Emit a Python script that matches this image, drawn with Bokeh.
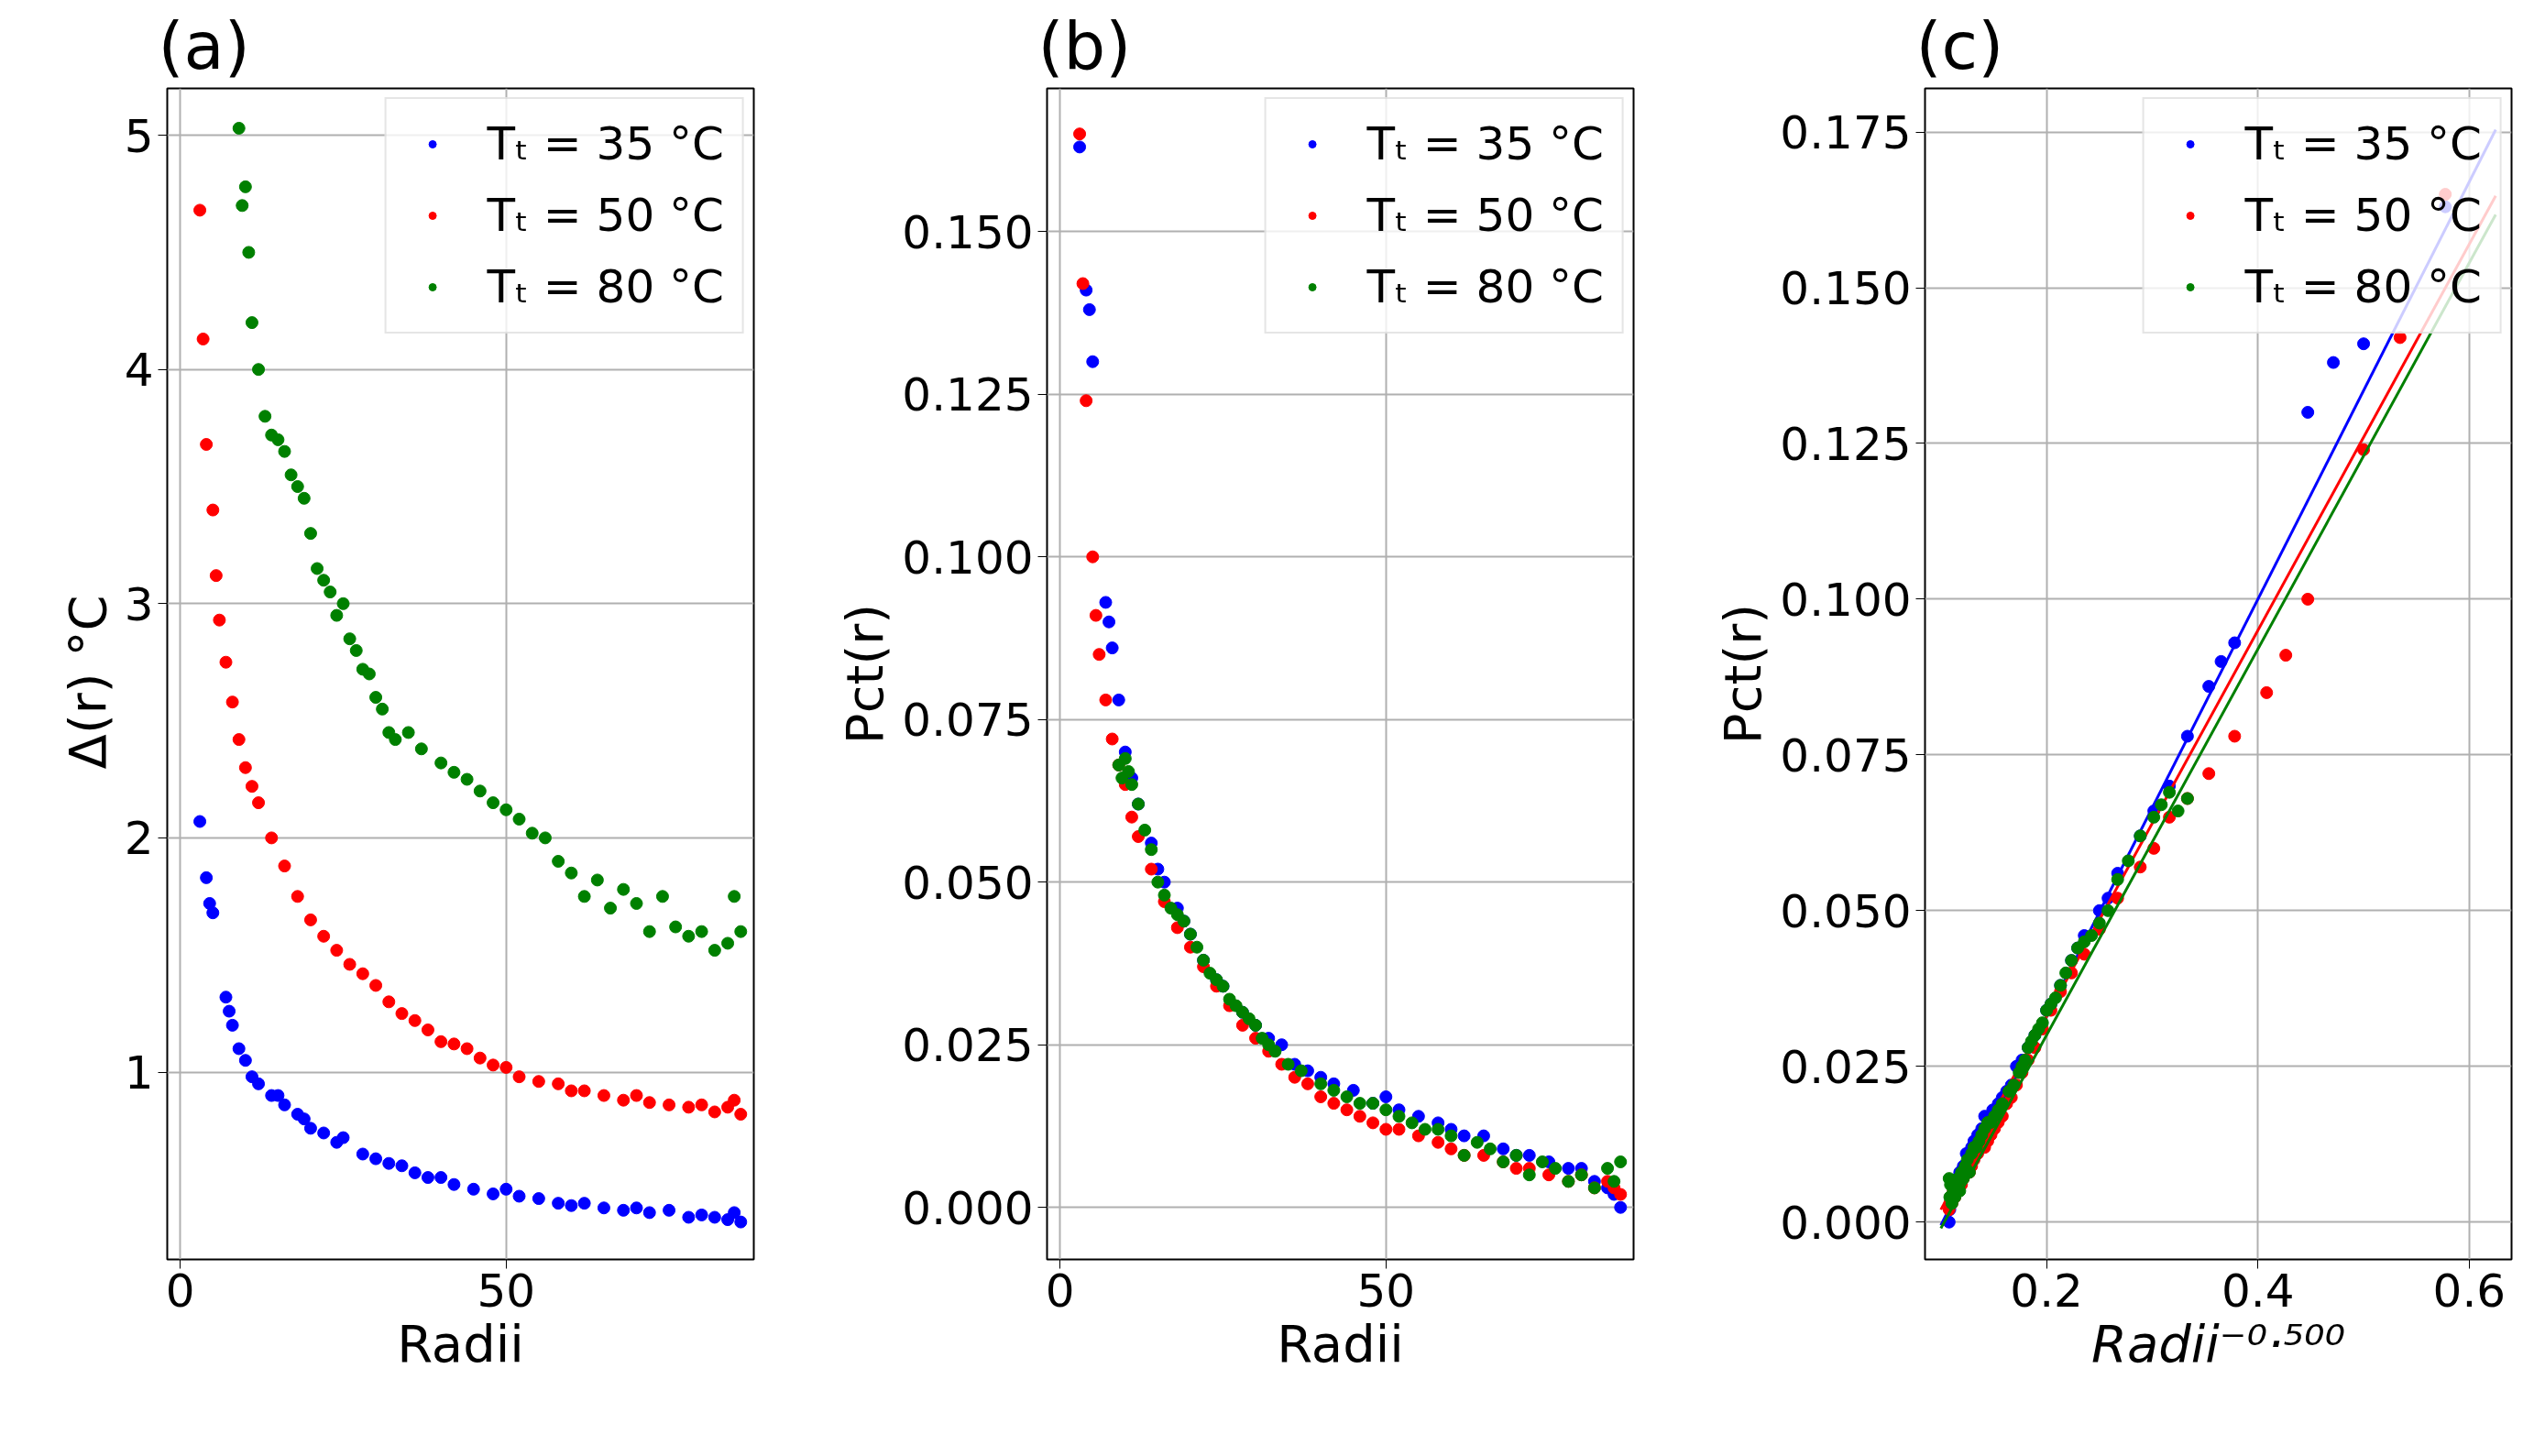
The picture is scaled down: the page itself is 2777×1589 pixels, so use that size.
from bokeh.plotting import figure
from bokeh.layouts import row
from bokeh.models import FixedTicker, NumeralTickFormatter, Range1d, Legend, LegendItem
from bokeh.embed import file_html
from bokeh.resources import INLINE

labels = ["Tₜ = 35 °C", "Tₜ = 50 °C", "Tₜ = 80 °C"]
colors = ["blue", "red", "green"]

r_blue = [3, 4, 4.5, 5, 7, 7.5, 8, 9, 10, 11, 12, 14, 15, 16, 18, 19, 20, 22, 24, 25, 28, 30, 32, 34, 36, 38, 40, 42, 45, 48, 50, 52, 55, 58, 60, 62, 65, 68, 70, 72, 75, 78, 80, 82, 84, 85, 86]
d_blue = [2.07, 1.83, 1.72, 1.68, 1.32, 1.26, 1.2, 1.1, 1.05, 0.98, 0.95, 0.9, 0.9, 0.86, 0.82, 0.8, 0.76, 0.74, 0.7, 0.72, 0.65, 0.63, 0.61, 0.6, 0.57, 0.55, 0.55, 0.52, 0.5, 0.48, 0.5, 0.47, 0.46, 0.44, 0.43, 0.44, 0.42, 0.41, 0.42, 0.4, 0.41, 0.38, 0.39, 0.38, 0.37, 0.4, 0.36]
p_blue = [0.163, 0.141, 0.138, 0.13, 0.093, 0.09, 0.086, 0.078, 0.07, 0.066, 0.062, 0.056, 0.052, 0.05, 0.046, 0.044, 0.042, 0.038, 0.035, 0.034, 0.03, 0.028, 0.026, 0.025, 0.022, 0.021, 0.02, 0.019, 0.018, 0.016, 0.017, 0.015, 0.014, 0.013, 0.012, 0.011, 0.011, 0.009, 0.008, 0.008, 0.007, 0.006, 0.006, 0.004, 0.003, 0.002, 0.0]

r_red = [3, 3.5, 4, 5, 5.5, 6, 7, 8, 9, 10, 11, 12, 14, 16, 18, 20, 22, 24, 26, 28, 30, 32, 34, 36, 38, 40, 42, 44, 46, 48, 50, 52, 55, 58, 60, 62, 65, 68, 70, 72, 75, 78, 80, 82, 84, 85, 86]
d_red = [4.68, 4.13, 3.68, 3.4, 3.12, 2.93, 2.75, 2.58, 2.42, 2.3, 2.22, 2.15, 2.0, 1.88, 1.75, 1.65, 1.58, 1.52, 1.46, 1.42, 1.37, 1.3, 1.25, 1.22, 1.18, 1.13, 1.12, 1.1, 1.06, 1.03, 1.02, 0.98, 0.96, 0.95, 0.92, 0.92, 0.9, 0.88, 0.9, 0.87, 0.86, 0.85, 0.86, 0.83, 0.85, 0.88, 0.82]
p_red = [0.165, 0.142, 0.124, 0.1, 0.091, 0.085, 0.078, 0.072, 0.068, 0.065, 0.06, 0.057, 0.052, 0.047, 0.043, 0.04, 0.037, 0.034, 0.031, 0.028, 0.026, 0.024, 0.022, 0.02, 0.019, 0.017, 0.016, 0.015, 0.014, 0.013, 0.012, 0.012, 0.011, 0.01, 0.009, 0.008, 0.008, 0.007, 0.006, 0.006, 0.005, 0.004, 0.005, 0.003, 0.004, 0.003, 0.002]

r_green = [9, 9.5, 10, 10.5, 11, 12, 13, 14, 15, 16, 17, 18, 19, 20, 21, 22, 23, 24, 25, 26, 27, 28, 29, 30, 31, 32, 33, 35, 37, 40, 42, 44, 46, 48, 50, 52, 54, 56, 58, 60, 62, 64, 66, 68, 70, 72, 74, 76, 78, 80, 82, 84, 85, 86]
d_green = [5.03, 4.7, 4.78, 4.5, 4.2, 4.0, 3.8, 3.72, 3.7, 3.65, 3.55, 3.5, 3.45, 3.3, 3.15, 3.1, 3.05, 2.95, 3.0, 2.85, 2.8, 2.72, 2.7, 2.6, 2.55, 2.45, 2.42, 2.45, 2.38, 2.32, 2.28, 2.25, 2.2, 2.15, 2.12, 2.08, 2.02, 2.0, 1.9, 1.85, 1.75, 1.82, 1.7, 1.78, 1.72, 1.6, 1.75, 1.62, 1.58, 1.6, 1.52, 1.55, 1.75, 1.6]
p_green = [0.068, 0.066, 0.069, 0.067, 0.065, 0.062, 0.058, 0.055, 0.05, 0.048, 0.046, 0.045, 0.044, 0.042, 0.04, 0.038, 0.036, 0.035, 0.034, 0.032, 0.031, 0.03, 0.029, 0.028, 0.026, 0.025, 0.024, 0.022, 0.021, 0.019, 0.018, 0.017, 0.016, 0.016, 0.015, 0.014, 0.013, 0.012, 0.012, 0.011, 0.008, 0.01, 0.009, 0.007, 0.008, 0.005, 0.007, 0.006, 0.004, 0.005, 0.003, 0.006, 0.004, 0.007]

radii = [r_blue, r_red, r_green]
delta = [d_blue, d_red, d_green]
pct = [p_blue, p_red, p_green]

# linear fits Pct = a * Radii^-0.5 + b
fit_slope = [0.335, 0.31, 0.31]
fit_icpt = [-0.034, -0.029, -0.032]
fit_x = [0.1, 0.625]

FONT = "DejaVu Sans"
TICK = "50px"

def make(title, xr, yr, left, right, xticks, yticks, xlabel, ylabel, yfmt=None, xfmt=None):
    p = figure(output_backend="svg", toolbar_location=None, frame_width=640, frame_height=1278,
               x_range=Range1d(*xr), y_range=Range1d(*yr), min_border_left=left,
               min_border_right=right, min_border_top=60, min_border_bottom=20)
    p.title.text = title
    p.title.text_font = FONT
    p.title.text_font_size = "72px"
    p.title.text_font_style = "normal"
    p.title.text_color = "black"
    p.title.offset = -10
    for ax in (p.xaxis, p.yaxis):
        ax.major_label_text_font = FONT
        ax.major_label_text_font_size = TICK
        ax.major_label_text_color = "black"
        ax.axis_label_text_font = FONT
        ax.axis_label_text_font_size = "56px"
        ax.axis_label_text_font_style = "normal"
        ax.axis_label_text_color = "black"
        ax.minor_tick_line_color = None
        ax.major_tick_line_color = "black"
        ax.major_tick_out = 10
        ax.major_tick_in = 0
        ax.axis_line_color = None
    p.xaxis.ticker = FixedTicker(ticks=xticks)
    p.yaxis.ticker = FixedTicker(ticks=yticks)
    if yfmt:
        p.yaxis.formatter = NumeralTickFormatter(format=yfmt)
    if xfmt:
        p.xaxis.formatter = NumeralTickFormatter(format=xfmt)
    p.xaxis.axis_label = xlabel
    p.yaxis.axis_label = ylabel
    p.outline_line_color = "black"
    p.outline_line_width = 2
    p.grid.grid_line_color = "#b0b0b0"
    p.grid.grid_line_width = 2
    return p

def legend(p, renderers):
    lg = Legend(items=[LegendItem(label=l, renderers=[r]) for l, r in zip(labels, renderers)],
                location="top_right", label_text_font=FONT, label_text_font_size="50px",
                label_text_color="black",
                border_line_color="#cccccc", border_line_width=2, glyph_width=60,
                label_standoff=30, spacing=20, padding=20, margin=10, background_fill_alpha=0.8)
    p.add_layout(lg)

pa = make("(a)", (-2, 88), (0.2, 5.2), 182, 30, [0, 50], [1, 2, 3, 4, 5], "Radii", "Δ(r)  °C")
rs = [pa.scatter(radii[i], delta[i], size=13, color=colors[i]) for i in range(3)]
legend(pa, rs)

pb = make("(b)", (-2, 88), (-0.008, 0.172), 290, 30, [0, 50],
          [0, 0.025, 0.05, 0.075, 0.1, 0.125, 0.15], "Radii", "Pct(r)", yfmt="0.000")
rs = [pb.scatter(radii[i], pct[i], size=13, color=colors[i]) for i in range(3)]
legend(pb, rs)

pc = make("(c)", (0.085, 0.64), (-0.006, 0.182), 288, 10, [0.2, 0.4, 0.6],
          [0, 0.025, 0.05, 0.075, 0.1, 0.125, 0.15, 0.175], "Radii⁻⁰·⁵⁰⁰", "Pct(r)", yfmt="0.000", xfmt="0.0")
pc.xaxis.axis_label_text_font_style = "italic"
rs = []
for i in range(3):
    xs = [v ** -0.5 for v in radii[i]]
    rs.append(pc.scatter(xs, pct[i], size=13, color=colors[i]))
    pc.line(fit_x, [fit_slope[i] * x + fit_icpt[i] for x in fit_x], color=colors[i], line_width=3)
legend(pc, rs)

layout = row(pa, pb, pc)
open("out.html", "w").write(file_html(layout, INLINE))
